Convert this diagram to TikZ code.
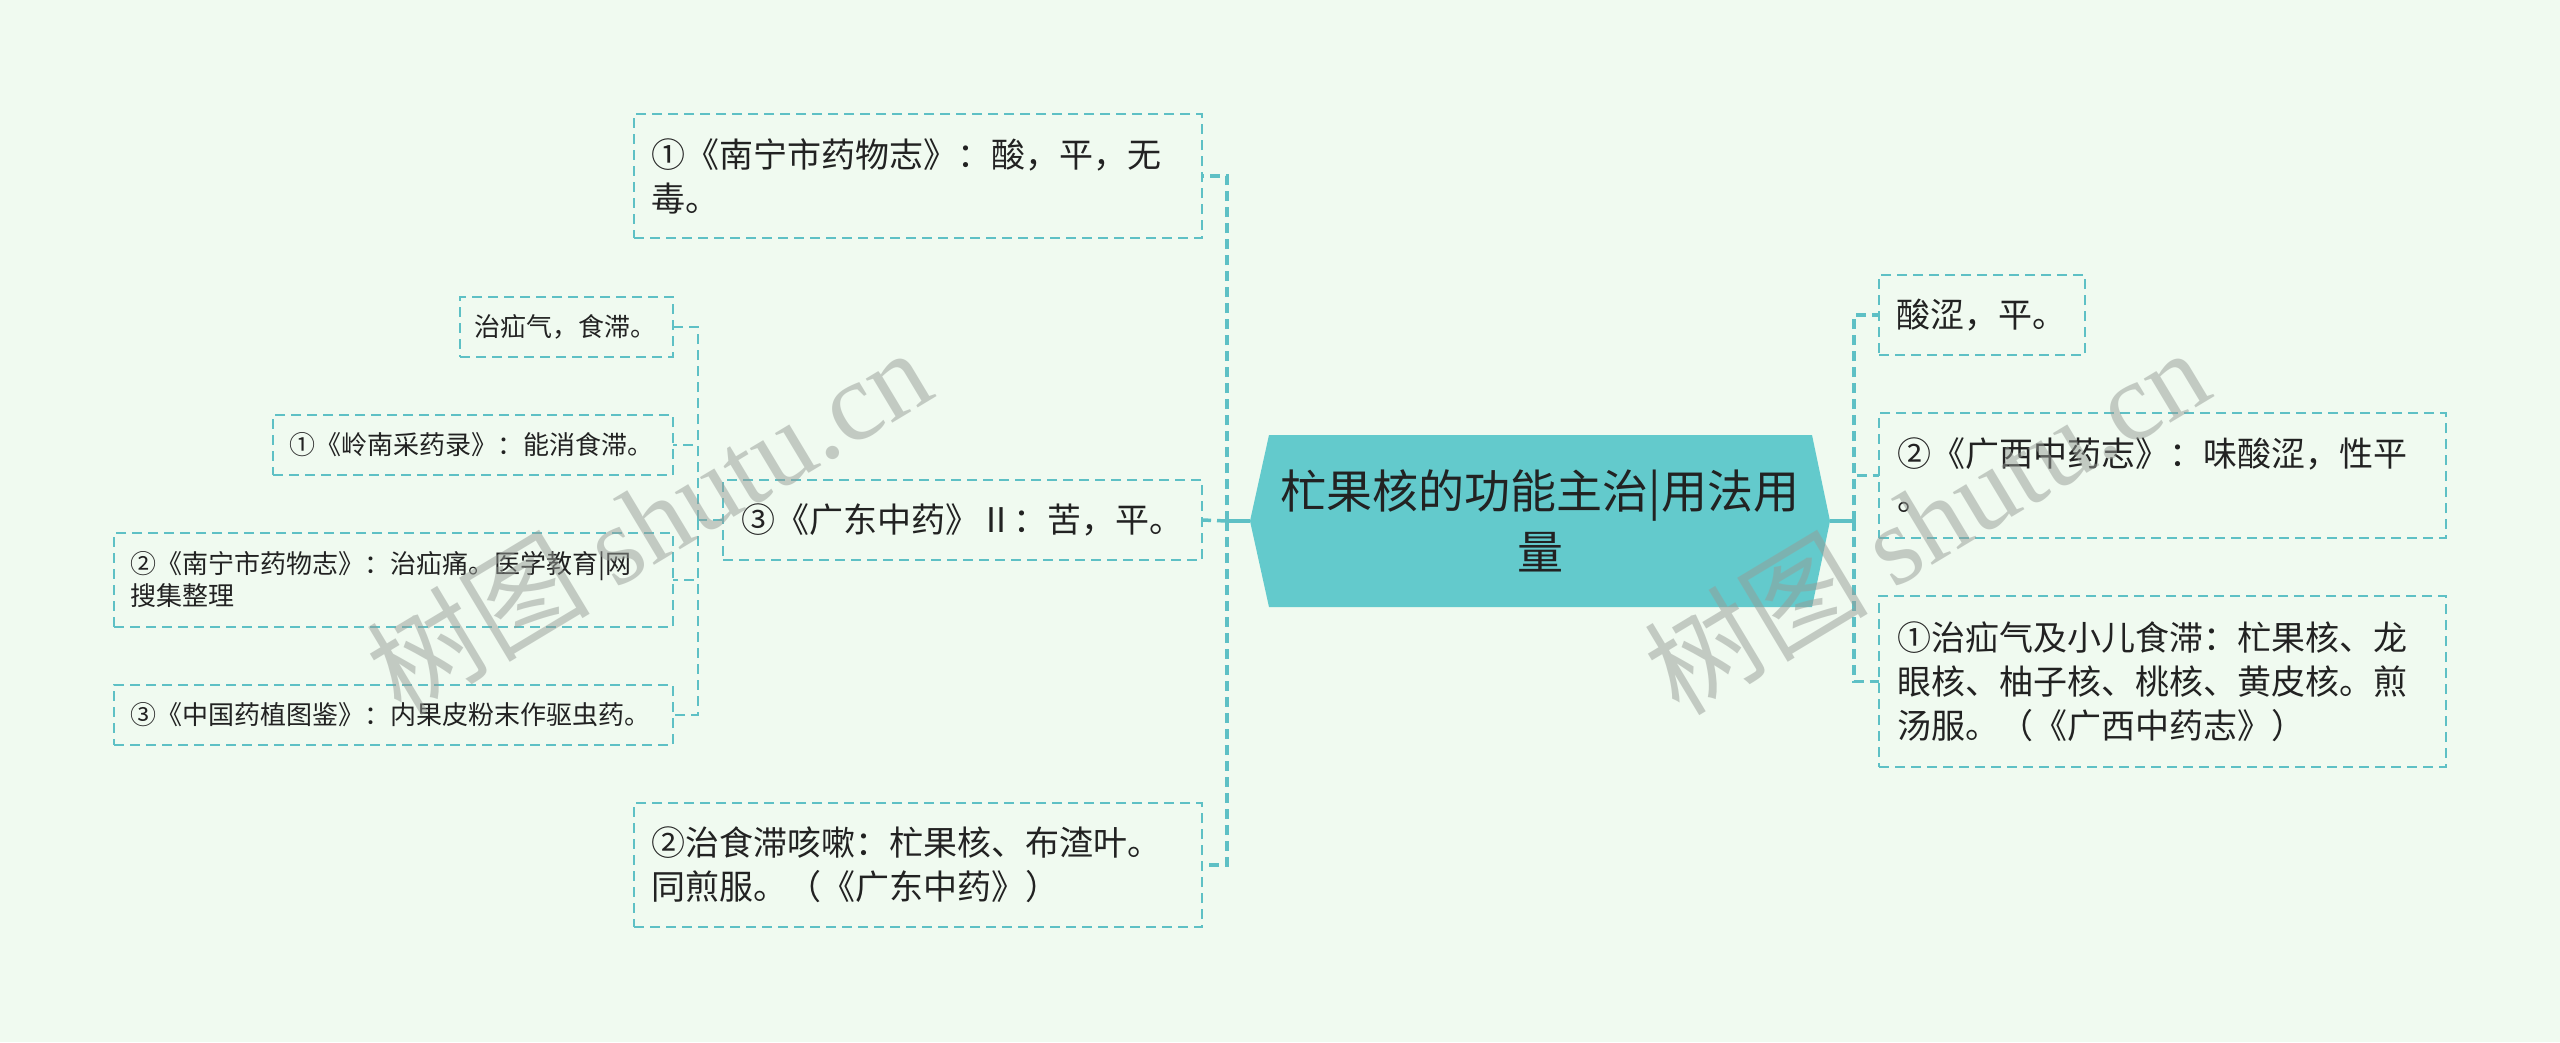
\documentclass[tikz,border=0pt]{standalone}
\usepackage{fontspec}
\setmainfont{Noto Sans CJK SC}
\newfontfamily\wmserif{Liberation Serif}
\usetikzlibrary{backgrounds}
\definecolor{bgcol}{RGB}{240,250,240}
\definecolor{teal}{RGB}{94,192,197}
\definecolor{mainfill}{RGB}{99,202,204}
\definecolor{txt}{RGB}{34,34,34}
\definecolor{wmcol}{RGB}{150,156,150}
\tikzset{
  bigbox/.style={draw=teal, dash pattern=on 10pt off 6pt, line width=2pt,
    anchor=north west, align=left, inner ysep=0pt, outer sep=0pt, text=txt,
    font=\fontsize{34}{44}\selectfont},
  smallbox/.style={bigbox, font=\fontsize{26}{32}\selectfont},
  mainnode/.style={minimum width=580pt, minimum height=172pt, inner sep=0pt,
    outer sep=0pt, align=center, text=txt, font=\fontsize{46}{61}\selectfont},
  trunkline/.style={draw=teal, line width=3.5pt, dash pattern=on 10pt off 6pt},
  solidline/.style={draw=teal, line width=3.5pt},
  subline/.style={draw=teal, line width=2.2pt, dash pattern=on 10pt off 6pt},
  wm/.style={text=wmcol, text opacity=0.5, font=\fontsize{112}{124}\selectfont, inner sep=0pt}
}
\begin{document}
\begin{tikzpicture}[x=1pt,y=-1pt]
\begin{scope}[on background layer]
\fill[bgcol] (0,0) rectangle (2560,1042);
\end{scope}
\useasboundingbox (0,0) rectangle (2560,1042);

% central node
\node[mainnode] (main) at (1540,521) {杧果核的功能主治|用法用\\量};
\begin{scope}[on background layer]
\fill[mainfill] (main.west) -- ([xshift=19pt]main.north west) -- ([xshift=-18pt]main.north east)
  -- (main.east) -- ([xshift=-18pt]main.south east) -- ([xshift=19pt]main.south west) -- cycle;
\end{scope}

% left boxes
\node[bigbox, text width=534pt, inner xsep=17pt, minimum height=124pt] (A) at (634,114)
  {①《南宁市药物志》：酸，平，无\\毒。};
\node[bigbox, text width=443pt, inner xsep=18pt, minimum height=80pt] (G3) at (723,480)
  {③《广东中药》Ⅱ：苦，平。};
\node[bigbox, text width=534pt, inner xsep=17pt, minimum height=124pt] (B2) at (634,803)
  {②治食滞咳嗽：杧果核、布渣叶。\\同煎服。（《广东中药》）};

% sub boxes
\node[smallbox, text width=185pt, inner xsep=14pt, minimum height=60pt] (S1) at (460,297)
  {治疝气，食滞。};
\node[smallbox, text width=368pt, inner xsep=16pt, minimum height=60pt] (S2) at (273,415)
  {①《岭南采药录》：能消食滞。};
\node[smallbox, text width=527pt, inner xsep=16pt, minimum height=94pt] (S3) at (114,533)
  {②《南宁市药物志》：治疝痛。医学教育|网\\搜集整理};
\node[smallbox, text width=527pt, inner xsep=16pt, minimum height=60pt] (S4) at (114,685)
  {③《中国药植图鉴》：内果皮粉末作驱虫药。};

% right boxes
\node[bigbox, text width=172pt, inner xsep=17pt, minimum height=80pt] (R1) at (1879,275)
  {酸涩，平。};
\node[bigbox, text width=531pt, inner xsep=18pt, minimum height=125pt] (R2) at (1879,413)
  {②《广西中药志》：味酸涩，性平\\。};
\node[bigbox, text width=531pt, inner xsep=18pt, minimum height=171pt] (R3) at (1879,596)
  {①治疝气及小儿食滞：杧果核、龙\\眼核、柚子核、桃核、黄皮核。煎\\汤服。（《广西中药志》）};

% trunk coordinates
\coordinate (lt) at (1227,521);
\coordinate (rt) at (1854,521);
\coordinate (st) at (698,520);

% connectors left
\draw[solidline] (main.west) -- (lt);
\draw[trunkline] (lt) |- (A.east);
\draw[trunkline] (lt) -- (G3.east);
\draw[trunkline] (lt) |- (B2.east);

% connectors right
\draw[solidline] (main.east) -- (rt);
\draw[trunkline] (rt) |- (R1.west);
\draw[trunkline] (rt) |- (R2.west);
\draw[trunkline] (rt) |- (R3.west);

% sub connectors
\draw[subline] (G3.west) -- (st);
\draw[subline] (st) |- (S1.east);
\draw[subline] (st) |- (S2.east);
\draw[subline] (st) |- (S3.east);
\draw[subline] (st) |- (S4.east);

% watermarks
\node[wm, rotate=31] (wm1) at (648,520) {树图 {\wmserif shutu.cn}};
\node[wm, rotate=31] (wm2) at (1926,520) {树图 {\wmserif shutu.cn}};
\end{tikzpicture}
\end{document}
